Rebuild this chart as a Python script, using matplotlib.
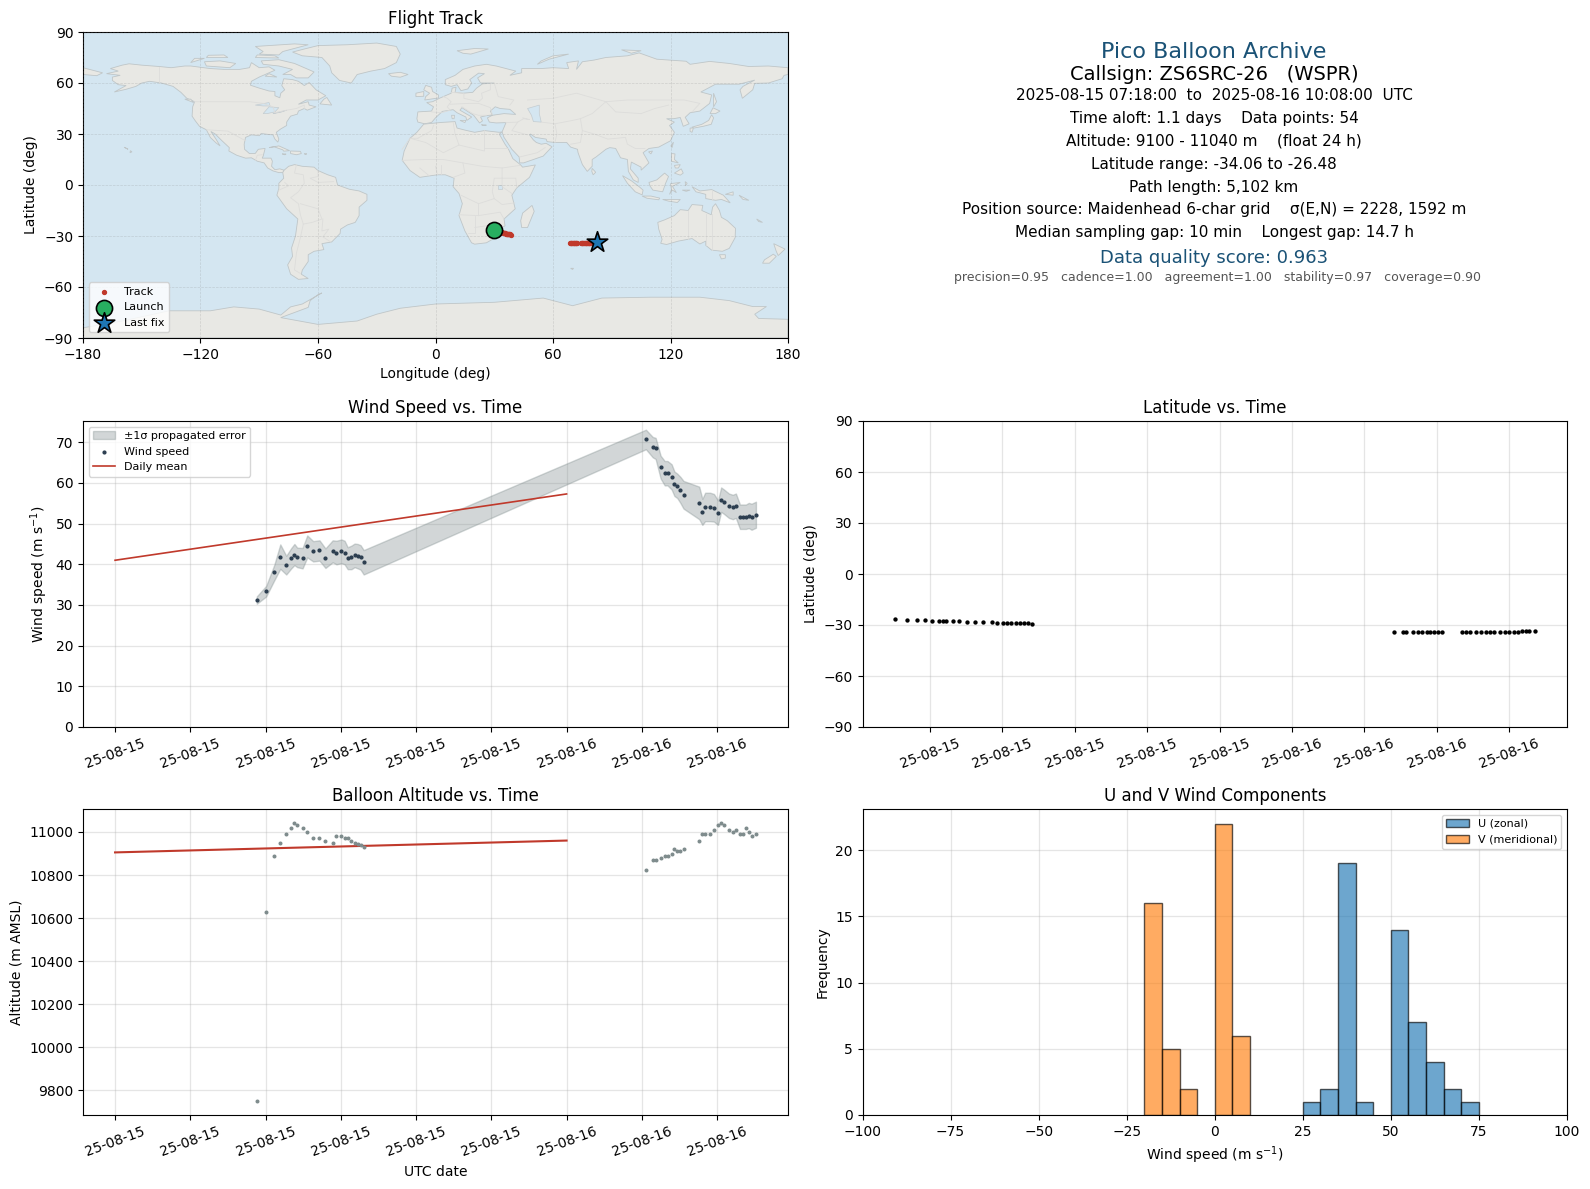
import datetime as dt
import matplotlib
matplotlib.use("Agg")
import matplotlib.pyplot as plt
import matplotlib.dates as mdates
from matplotlib.patches import Polygon

W, H = 1590, 1189

# sample times, two passes of the balloon (day 1 / day 2)
times_day1 = ["07:32", "08:02", "08:28", "08:47", "09:06", "09:22", "09:32", "09:41", "09:58",
              "10:13", "10:32", "10:52", "11:11", "11:34", "11:46", "12:02", "12:12", "12:22",
              "12:34", "12:44", "12:54", "13:03", "13:13"]
times_day2 = ["04:13", "04:35", "04:44", "05:00", "05:13", "05:22", "05:35", "05:44", "05:53",
              "06:03", "06:13", "07:03", "07:13", "07:22", "07:38", "07:50", "08:03", "08:13",
              "08:22", "08:38", "08:50", "09:00", "09:13", "09:22", "09:32", "09:41", "09:50",
              "10:04"]

wind = [31.2, 33.4, 38.0, 41.9, 39.8, 41.5, 42.4, 41.7, 41.5, 44.4, 43.2, 43.4, 41.5, 43.2, 42.9,
        43.2, 42.9, 41.5, 41.7, 42.2, 42.0, 41.7, 40.5,
        70.7, 68.8, 68.5, 63.9, 62.4, 62.4, 61.5, 59.8, 59.3, 58.3, 57.1, 55.1, 52.9, 54.1, 54.1,
        53.9, 52.7, 55.9, 55.4, 54.4, 54.1, 54.4, 51.7, 51.7, 51.7, 52.0, 51.7, 52.2]
wind_sigma = [0.9, 1.3, 1.9, 3.0, 2.3, 2.5, 2.6, 2.4, 2.5, 2.7, 2.5, 2.5, 2.4, 2.7, 2.9,
              2.9, 2.9, 2.7, 2.9, 2.9, 3.0, 3.0, 3.0,
              2.4, 2.5, 2.6, 2.8, 3.0, 3.0, 3.1, 3.0, 3.0, 3.2, 3.4, 4.0, 3.2, 3.5, 3.5,
              3.4, 3.0, 3.0, 3.0, 3.0, 3.0, 3.0, 3.0, 3.0, 3.0, 3.1, 3.2, 3.2]
altitude = [9750, 10630, 10888, 10949, 10991, 11019, 11042, 11033, 11019, 11000, 10972, 10972,
            10958, 10949, 10981, 10981, 10972, 10972, 10958, 10949, 10944, 10940, 10930,
            10825, 10870, 10870, 10879, 10888, 10888, 10898, 10921, 10912, 10912, 10921, 10958,
            10991, 10991, 10991, 11009, 11033, 11042, 11033, 11009, 11000, 11009, 10991, 10991,
            11019, 11000, 10981, 10991]
latitude = [-26.48, -27.0, -27.1, -27.2, -27.6, -27.7, -27.75, -27.75, -27.8, -27.85, -28.1,
            -28.2, -28.3, -28.5, -28.55, -28.6, -28.65, -28.8, -28.9, -29.0, -29.1, -29.1, -29.2,
            -34.0, -34.0, -34.0, -34.0, -34.0, -34.0, -34.0, -34.0, -34.0, -34.0, -34.0,
            -34.0, -34.0, -34.0, -34.0, -34.0, -34.0, -34.0, -34.0, -34.0, -34.0, -34.0, -34.0,
            -33.9, -33.8, -33.6, -33.4, -33.3]
longitude = [30.0, 30.6, 31.2, 31.7, 32.2, 32.6, 32.9, 33.2, 33.6, 34.0, 34.4, 34.9, 35.3, 35.7,
             36.0, 36.3, 36.6, 36.8, 37.1, 37.4, 37.7, 38.0, 38.3,
             68.5, 69.0, 69.3, 69.8, 70.2, 70.5, 70.9, 71.2, 71.5, 71.8, 72.1, 74.2, 74.6, 75.0,
             75.4, 75.8, 76.2, 76.6, 77.0, 77.4, 77.8, 78.2, 78.6, 79.0, 79.5, 80.2, 81.0, 82.4]

mean_days = [dt.datetime(2025, 8, 15), dt.datetime(2025, 8, 16)]
mean_wind = [41.0, 57.3]
mean_alt = [10905, 10960]

bin_edges = list(range(-100, 101, 5))
u_left = [25, 30, 35, 40, 50, 55, 60, 65, 70]
u_count = [1, 2, 19, 1, 14, 7, 4, 2, 1]
v_left = [-20, -15, -10, 0, 5]
v_count = [16, 5, 2, 22, 6]

# land outlines (lon, lat)
north_america = [(-168, 65.5), (-164, 66.5), (-162, 67), (-166, 68.5), (-160, 70.5), (-156.5, 71.3), (-150, 70.5), (-141, 69.7), (-135, 69), (-128, 70), (-125, 70), (-115, 68.5), (-108, 68), (-100, 68), (-95, 69), (-94, 72), (-90, 69), (-85, 69.5), (-82, 67.5), (-87, 65), (-90, 63.5), (-94, 61), (-94.5, 58.7), (-90, 57), (-85, 55.3), (-82, 55), (-82, 52.5), (-79.5, 51.3), (-79, 54), (-77, 56), (-78.5, 58.5), (-77.5, 62.5), (-73, 62), (-70, 61), (-67, 58.5), (-64.5, 60.3), (-61, 56), (-56, 52.5), (-60, 50), (-66, 50), (-70, 47.5), (-65, 49), (-64.5, 47), (-61, 46), (-65.5, 44), (-67, 45), (-70, 43.5), (-70.5, 41.7), (-74, 40.5), (-76, 37), (-76, 35), (-79, 33), (-81.3, 31), (-80, 27), (-80.5, 25.2), (-82, 27), (-83, 29.5), (-85, 29.7), (-89, 30.3), (-90, 29), (-94, 29.5), (-97, 28), (-97.7, 24), (-97.5, 21), (-95, 18.5), (-92, 18.6), (-90.5, 21), (-87, 21.5), (-88, 17), (-88.5, 15.8), (-84, 15.8), (-83.3, 14), (-83.7, 11), (-82, 9), (-79.5, 9.5), (-77.3, 8.7), (-78, 7.3), (-80, 7.3), (-83, 8.3), (-85.7, 10), (-87.5, 13), (-91, 14), (-94, 16), (-97, 15.8), (-101.5, 17.5), (-105.5, 20), (-105.3, 22), (-109, 26), (-112.5, 30), (-114.7, 31.5), (-112, 26.8), (-110, 23), (-112, 24.7), (-115, 28), (-117, 32.5), (-120.5, 34.5), (-122.5, 37.5), (-124.3, 40.5), (-124, 46), (-123, 49), (-127, 51), (-130, 54.5), (-134, 58), (-140, 60), (-146, 61), (-150, 60), (-153, 58), (-158, 56.3), (-164, 54.7), (-158, 58.5), (-162, 59), (-165, 61.5), (-165, 63.5), (-161, 64.5)]
south_america = [(-77.3, 8.7), (-75, 11), (-72, 12), (-68, 11), (-62, 10.5), (-60, 8.5), (-55, 6), (-51, 4.5), (-50, 0), (-44, -2.5), (-39, -3.5), (-35, -5.5), (-35, -9), (-39, -13), (-39, -18), (-41, -22), (-45, -23.5), (-48.5, -26), (-48.7, -28.5), (-53, -33.5), (-58, -34.5), (-57, -38), (-62, -39), (-65, -41), (-65, -45), (-68, -50), (-68.5, -52.5), (-65, -55), (-70, -55.5), (-74, -52.5), (-75.5, -47), (-73, -42), (-73.5, -37), (-71.5, -30), (-70.3, -20), (-76, -14), (-81, -6), (-80, -2), (-80, 1), (-77.5, 4), (-78, 7.3)]
greenland = [(-73, 78.2), (-67, 80), (-60, 82), (-45, 82.5), (-30, 83.5), (-20, 81.5), (-18, 77), (-20, 72), (-26, 68.5), (-33, 67), (-40, 65), (-43, 60), (-49, 61.5), (-53, 66), (-54, 70), (-58, 75), (-68, 76)]
eurasia = [(-9, 37), (-9.5, 39), (-9, 43), (-2, 43.5), (-1, 46), (-4.5, 48.5), (-1.5, 49), (2, 51), (4, 52), (8, 54), (8.5, 57), (10.5, 57.5), (10, 54.5), (14, 54), (19, 54.5), (21, 57), (24, 59.5), (30, 60), (23, 60), (21.5, 63), (25, 65.5), (22, 65.8), (17.5, 62), (18.5, 60), (16.5, 56.5), (13, 55.5), (11, 59), (8, 58), (5, 59), (5, 62), (10, 64.5), (14, 68), (20, 70), (26, 71), (31, 70), (41, 67), (38, 64.5), (44, 66), (44, 68.5), (54, 68.5), (60, 69), (68, 68.5), (67, 72), (73, 73), (72, 68), (75, 72.5), (81, 73.5), (87, 75), (98, 76), (104, 77.7), (113, 74), (128, 72.8), (130, 71), (140, 72.7), (150, 71.5), (160, 69.7), (170, 70), (180, 69), (180, 65), (178, 64.5), (177, 62.5), (170, 60), (163, 59.8), (162, 56), (156.7, 51), (155.5, 56), (157, 58), (163, 61.7), (155, 59.3), (143, 59.3), (135.5, 54.7), (141, 53), (140, 48), (135, 43.5), (130, 42.5), (127.5, 39.8), (129.5, 36), (126.5, 34.5), (125, 39.7), (121.5, 39), (118, 39), (122, 37), (119.5, 35), (122, 31), (120, 26), (114, 22.3), (109, 21.5), (106, 19), (109, 13), (105, 8.7), (105, 10.5), (100, 13.5), (99.5, 9.5), (103.5, 4), (103.5, 1.5), (101, 3), (98.5, 8), (98, 15), (94.5, 16), (92, 21.5), (89, 22), (87, 21), (82, 16.5), (80, 15), (80, 11), (77.5, 8), (75, 12), (72.8, 19), (72.5, 21), (69, 22.3), (67, 25), (61, 25), (57, 25.5), (56.5, 27), (51, 28), (48.5, 30), (48, 29.5), (50, 26.5), (51.5, 25), (54, 24), (56.5, 24.5), (59.5, 22.5), (55, 17), (45, 13), (43, 13), (42.7, 16.5), (39, 21), (35, 28), (34.5, 29.5), (34, 31.2), (36, 36.7), (31, 36.5), (27.5, 37), (26.5, 39.5), (29, 41), (35, 42), (41, 41.5), (38, 44.5), (33, 45), (30.5, 46), (28, 43.5), (29, 41.2), (26, 40.8), (23, 40), (24, 37.7), (22.5, 36.5), (19.5, 41), (13.5, 45.5), (12.5, 44), (18.5, 40), (16, 38), (15.5, 40), (11, 42.5), (9, 44.3), (3.5, 43.3), (0, 39.5), (-2, 36.8), (-5.5, 36)]
africa = [(-6, 35.8), (3, 36.8), (10, 37.3), (11, 33.5), (15, 32.3), (20, 31), (25, 32), (32.5, 31), (34, 31.2), (32.6, 29.9), (35.5, 24), (37.3, 21), (39.5, 15.5), (43.3, 12), (44.5, 10.5), (51, 11.8), (48, 4.5), (41.5, -1.7), (39, -6), (40.7, -14), (35, -20), (35.5, -24), (32.8, -26), (30.5, -31), (26, -34), (20, -34.8), (18.4, -34), (15, -27), (12, -18), (13.7, -11), (12, -5), (9, -1), (9.5, 4), (5, 6), (1, 6), (-4, 5.2), (-8, 4.5), (-13, 8.5), (-17, 14.5), (-16, 20), (-13, 27.5), (-9.5, 31)]
australia = [(113.5, -22), (114, -26), (115.7, -32), (115, -34.3), (118, -35), (124, -33), (131, -31.5), (135, -34.7), (138, -33), (138, -35.5), (141, -38.3), (146.5, -39), (150, -37.3), (153, -31), (153.2, -25.5), (149, -21), (146, -19), (145, -15), (143, -11), (141.5, -13), (140.8, -17.5), (136, -15), (136.5, -12), (131, -11.5), (129, -15), (125, -14.5), (122, -18), (117, -20.5)]
antarctica = [(-180, -84), (-160, -80), (-150, -77.5), (-136, -74), (-115, -74), (-103, -71.7), (-90, -73), (-79, -76.5), (-74, -71.7), (-68, -70), (-58, -63.5), (-60, -64.5), (-64, -68), (-65, -72), (-79, -78), (-60, -82), (-40, -80), (-30, -76), (-18, -72.5), (0, -70), (30, -69), (55, -66.5), (70, -71), (85, -66.5), (110, -66), (135, -66), (150, -68), (162, -71.5), (169, -71.5), (163, -76), (165, -78.5), (180, -79), (180, -90), (-180, -90)]
islands = [
    [(-80, 73.7), (-72, 71.5), (-67, 69), (-62, 66.5), (-65, 63), (-71, 63), (-74, 65), (-78, 65), (-73, 68), (-80, 70), (-88, 71), (-89, 73)],
    [(-117, 70), (-105, 69), (-102, 71.5), (-110, 73), (-118, 72.5)],
    [(-90, 77), (-80, 76.5), (-78, 78.5), (-65, 82.5), (-72, 83), (-92, 81.5), (-88, 78.5)],
    [(-125, 72), (-118, 74.5), (-123, 74.5)],
    [(-92, 75), (-80, 74.7), (-82, 76), (-91, 76.5)],
    [(-117, 75), (-106, 75), (-108, 76.5), (-116, 76.3)],
    [(-59, 47.7), (-53, 47), (-55.5, 51.5), (-57, 50.5)],
    [(-87, 64), (-81, 63.5), (-85, 65.5)],
    [(-128, 50.5), (-123.5, 48.5), (-125, 50.5)],
    [(-85, 22), (-80, 23), (-74.5, 20.2), (-77.5, 19.9), (-78, 20.7), (-82.5, 22.5)],
    [(-74, 18.5), (-74, 20), (-69, 19.8), (-68.5, 18.5), (-71, 17.8)],
    [(-78.3, 18.3), (-76.3, 18.2), (-77, 17.8)],
    [(-67, 18.4), (-65.7, 18.3), (-66.5, 18)],
    [(-156, 19), (-155, 19.5), (-155.8, 20.2)],
    [(-159, 22.2), (-157.8, 21.6), (-157, 21)],
    [(-180, 69), (-175, 67.5), (-170, 66), (-173, 64.3), (-180, 65)],
    [(-5.5, 50), (1.5, 51.2), (1.5, 53), (-1.5, 55), (-2, 57.5), (-5, 58.6), (-6, 56), (-3, 54), (-5, 52)],
    [(-10, 52), (-6, 52.2), (-6, 55), (-10, 54)],
    [(-24, 65.5), (-18, 66.3), (-14, 65), (-18, 63.4), (-22.5, 64)],
    [(11, 79), (20, 80.3), (27, 80), (18, 77), (14, 77.5)],
    [(52, 71), (58, 74), (68, 77), (60, 76), (54, 73)],
    [(95, 79.5), (105, 79), (100, 77.5)],
    [(12.5, 38), (15.5, 38), (15, 36.7)],
    [(8.2, 41), (9.7, 41), (9.5, 39), (8.5, 39)],
    [(23.5, 35.5), (26, 35.2), (24, 35)],
    [(49.3, -12), (50.4, -15.5), (47, -25), (44, -25), (43.5, -21), (44.5, -16.5)],
    [(69, -49), (70.5, -49), (70, -49.7)],
    [(145, -41), (148, -41), (148, -43), (146, -43.5)],
    [(172.7, -34.5), (178.5, -37.7), (175, -41.5), (174, -39)],
    [(172.5, -40.7), (174, -42), (170.5, -46), (167, -46), (168, -44)],
    [(131, -1), (135, -3.5), (141, -2.7), (147, -6), (150.5, -10.5), (146, -8.5), (143, -9), (138, -8), (138, -5.5), (133, -4)],
    [(109, 1.5), (113, 3), (117, 7), (119, 5), (117.5, 1), (116, -4), (111, -3), (109.5, -0.5)],
    [(95.5, 5.5), (100, 2.5), (104, -1), (106, -3), (105.5, -5.8), (102, -4), (98, 1)],
    [(105.5, -6.5), (110, -6.5), (114.5, -7.7), (114, -8.7), (108, -7.8)],
    [(119.5, -5.5), (120.5, -2.7), (120, 0.8), (125, 1.5), (121, -0.8), (123, -4.5), (121, -3)],
    [(127.5, 2), (128.5, 1), (127.7, -0.5)],
    [(126, -3), (130, -3), (128, -3.7)],
    [(116, -8.5), (125, -8.5), (123.5, -10.3), (119, -9.5)],
    [(148, -5.5), (152, -4), (152, -6)],
    [(155, -6), (160, -9), (157, -8.5)],
    [(164, -20), (167, -22), (165, -21.5)],
    [(120.5, 18.5), (122.3, 18.3), (122, 15), (124, 13), (120.5, 14)],
    [(122, 7), (125.5, 9.5), (126.5, 7), (125, 5.8)],
    [(122, 11.5), (125, 12), (124, 10), (122.5, 10)],
    [(80, 9.8), (81.8, 7.5), (80.5, 6), (79.8, 8)],
    [(120.2, 23), (121.5, 25.2), (120.8, 22)],
    [(108.8, 19.5), (110.8, 20), (110, 18.3)],
    [(130.9, 34), (136, 35.7), (139.5, 38), (141, 41.3), (142, 39.5), (140.8, 35.7), (137, 34.6), (132, 33.5)],
    [(130, 33.5), (131.7, 33.5), (131, 31), (130, 31.5)],
    [(140.2, 42), (141.7, 45.4), (145.3, 43.5), (143, 42)],
    [(142, 54), (143.5, 49), (142, 46), (142, 50)],
]
lakes = [
    [(47, 45), (53, 47), (53, 42), (54, 37), (50, 37.3), (49, 41)],
    [(-92, 47), (-85, 48.5), (-84.5, 46.5), (-88, 46.5)],
    [(-88, 42), (-85, 46), (-80, 45.5), (-82, 43), (-86, 42)],
    [(-83, 42), (-78.5, 43.3), (-76, 44), (-79, 42.8)],
    [(32, 0), (34, 0), (34, -2.5), (32, -2.5)],
]
borders = [
    [(-123, 49), (-95, 49), (-88, 48), (-83, 46), (-82, 42.5), (-76, 44), (-71, 45), (-67, 47), (-67, 45)],
    [(-141, 69.7), (-141, 60)],
    [(-117, 32.5), (-106, 31.7), (-97, 26)],
    [(-92, 14.5), (-91, 17.5), (-88.5, 17.8)],
    [(-71, 12), (-72, 7), (-67.5, 6), (-67, 1), (-70, -4), (-74, -7.5), (-70, -11), (-69, -17.5), (-67.5, -23), (-69, -31), (-71, -40), (-72, -50), (-69, -52)],
    [(-60, 8.5), (-60, 5), (-64, 4), (-60, 1.5), (-52, 2)],
    [(-57.5, -20), (-58, -27), (-54.5, -26), (-57.5, -30.5), (-53.5, -33.5)],
    [(-69, -11), (-60, -14), (-58, -20), (-63, -22), (-67.5, -23)],
    [(-80, -3), (-75, -0.5), (-77, 1.5)],
    [(-2, 43), (3, 42.5), (7.5, 44), (6, 46), (8, 49), (6, 51), (4, 52)],
    [(8, 54.5), (14.5, 54), (14.5, 51), (22, 49), (24, 51), (23.5, 54), (28, 56), (28, 60)],
    [(7.5, 47.5), (17, 48), (22, 48), (28, 45.5), (29, 41.5)],
    [(13.5, 46), (19, 42), (22, 41), (26, 41)],
    [(30, 60), (32, 52), (40, 50), (38, 47)],
    [(47, 50), (60, 51), (72, 54), (87, 49), (98, 50), (107, 50), (118, 50), (127, 50), (135, 48), (131, 43)],
    [(87, 49), (80, 42), (74, 39), (70, 38), (61, 36), (54, 37)],
    [(87, 49), (92, 43), (105, 42), (112, 45), (119, 47)],
    [(74, 39), (75, 32), (81, 30), (88, 27), (97, 28), (98, 24), (102, 21.5), (107, 21.5)],
    [(61, 25), (62, 30), (61, 36)],
    [(75, 32), (74, 25), (69, 24)],
    [(36, 36.7), (42, 37), (45, 39), (48, 38.5), (44.5, 39.5)],
    [(42, 37), (39, 32), (47, 29.5)],
    [(43, 16.5), (52, 19), (56, 22)],
    [(-9, 27.5), (-2, 32), (-1, 35)],
    [(-9, 27.5), (-13, 27.5), (-17, 21)],
    [(-13, 27.5), (-5, 25), (4, 19), (12, 23.5), (10, 30), (9, 37)],
    [(12, 23.5), (25, 20), (25, 32)],
    [(25, 22), (37, 22)],
    [(-17, 14.5), (-5, 15), (4, 15), (14, 13), (24, 11), (34, 10), (43, 11.5)],
    [(14, 13), (15, 7), (9, 4.5)],
    [(34, 10), (34, 4), (41, 4), (41.5, -1.7)],
    [(34, 4), (30, 4), (29, -4), (30, -8), (22, -11), (13, -6)],
    [(34, 4), (34, -1), (39, -5)],
    [(30, -8), (34, -11.5), (40.5, -10.5)],
    [(22, -11), (22, -18), (12, -17.5)],
    [(22, -18), (33, -16), (35, -20)],
    [(20, -18), (20, -28.5), (16.5, -28.5)],
    [(20, -25), (26, -24), (32, -22.5), (32, -26)],
    [(-8, 10), (-3, 5.2)],
    [(0, 11), (1, 6)],
    [(3, 12), (3, 6.5)],
    [(129, -15), (129, -31.7)],
    [(138, -17), (138, -35)],
    [(141, -17), (141, -38)],
    [(141, -2.7), (141, -9)],
]

land_color = "#e8e8e4"
ocean_color = "#d4e6f1"
red = "#c0392b"
navy = "#1a5276"


def px_axes(left, top, right, bottom):
    return [left / W, 1 - bottom / H, (right - left) / W, (bottom - top) / H]


def parse(day, items):
    return [dt.datetime.strptime("2025-08-%d %s" % (day, t), "%Y-%m-%d %H:%M") for t in items]


def style_time(ax, hours):
    ax.xaxis.set_major_locator(mdates.HourLocator(byhour=range(0, 24, hours)))
    ax.xaxis.set_major_formatter(mdates.DateFormatter("%y-%m-%d"))
    ax.tick_params(axis="x", labelrotation=20)
    ax.grid(True, color="#b0b0b0", alpha=0.33, lw=0.9)
    ax.set_axisbelow(True)


times = parse(15, times_day1) + parse(16, times_day2)
upper = [w + s for w, s in zip(wind, wind_sigma)]
lower = [w - s for w, s in zip(wind, wind_sigma)]

fig = plt.figure(figsize=(W / 100, H / 100), dpi=100)

# flight track map
ax = fig.add_axes(px_axes(83, 32, 788, 338))
ax.set_facecolor(ocean_color)
for poly in [north_america, south_america, greenland, eurasia, africa, australia, antarctica] + islands:
    ax.add_patch(Polygon(poly, closed=True, fc=land_color, ec="#bfc6c8", lw=0.6, zorder=1))
for poly in lakes:
    ax.add_patch(Polygon(poly, closed=True, fc=ocean_color, ec="#c4ccd0", lw=0.5, zorder=1.1))
for line in borders:
    ax.plot([p[0] for p in line], [p[1] for p in line], color="#dddddb", lw=0.6, zorder=1.2)
ax.grid(True, color="#808080", alpha=0.25, ls="--", lw=0.5, zorder=1.5)
ax.set_axisbelow(False)
ax.scatter(longitude, latitude, s=8, color=red, zorder=3, label="Track")
ax.scatter(longitude[0], latitude[0], s=135, color="#27ae60", edgecolor="black", lw=1.2, zorder=4, label="Launch")
ax.scatter(longitude[-1], latitude[-1], s=240, marker="*", color="#1f77b4", edgecolor="black", lw=1.2, zorder=4, label="Last fix")
ax.set_xlim(-180, 180)
ax.set_ylim(-90, 90)
ax.set_xticks(range(-180, 181, 60))
ax.set_yticks(range(-90, 91, 30))
ax.set_xlabel("Longitude (deg)")
ax.set_ylabel("Latitude (deg)")
ax.set_title("Flight Track")
ax.legend(loc="lower left", fontsize=8)

# summary text
ax = fig.add_axes(px_axes(862.5, 31, 1567, 337.5))
ax.axis("off")
summary = [
    (0.931, 0.499, "Pico Balloon Archive", 16, navy),
    (0.858, 0.499, "Callsign: ZS6SRC-26   (WSPR)", 14, "black"),
    (0.789, 0.499, "2025-08-15 07:18:00  to  2025-08-16 10:08:00  UTC", 11, "black"),
    (0.714, 0.499, "Time aloft: 1.1 days    Data points: 54", 11, "black"),
    (0.641, 0.499, "Altitude: 9100 - 11040 m    (float 24 h)", 11, "black"),
    (0.566, 0.499, "Latitude range: -34.06 to -26.48", 11, "black"),
    (0.491, 0.499, "Path length: 5,102 km", 11, "black"),
    (0.416, 0.499, "Position source: Maidenhead 6-char grid    σ(E,N) = 2228, 1592 m", 11, "black"),
    (0.343, 0.499, "Median sampling gap: 10 min    Longest gap: 14.7 h", 11, "black"),
    (0.260, 0.499, "Data quality score: 0.963", 13, navy),
    (0.195, 0.504, "precision=0.95   cadence=1.00   agreement=1.00   stability=0.97   coverage=0.90", 9, "#555555"),
]
for y, x, text, size, color in summary:
    ax.text(x, y, text, transform=ax.transAxes, ha="center", va="center", fontsize=size, color=color)

# wind speed
ax = fig.add_axes(px_axes(83, 421, 788, 727))
ax.fill_between(times, lower, upper, color="#7f8c8d", alpha=0.35, label="±1σ propagated error")
ax.scatter(times, wind, s=4, color="#2c3e50", zorder=3, label="Wind speed")
ax.plot(mean_days, mean_wind, color=red, lw=1.2, label="Daily mean")
ax.set_ylim(bottom=0)
style_time(ax, 4)
ax.set_ylabel("Wind speed (m s$^{-1}$)")
ax.set_title("Wind Speed vs. Time")
ax.legend(loc="upper left", fontsize=8)

# latitude
ax = fig.add_axes(px_axes(862.5, 421, 1567, 727))
ax.scatter(times, latitude, s=4.5, color="black", zorder=3)
ax.set_ylim(-90, 90)
ax.set_yticks(range(-90, 91, 30))
style_time(ax, 3)
ax.set_ylabel("Latitude (deg)")
ax.set_title("Latitude vs. Time")

# altitude
ax = fig.add_axes(px_axes(83, 809, 788, 1115))
ax.scatter(times, altitude, s=3.5, color="#7f8c8d", zorder=3)
ax.plot(mean_days, mean_alt, color=red, lw=1.5)
style_time(ax, 4)
ax.set_xlabel("UTC date")
ax.set_ylabel("Altitude (m AMSL)")
ax.set_title("Balloon Altitude vs. Time")

# wind component histogram
ax = fig.add_axes(px_axes(862.5, 809, 1567, 1115))
step = bin_edges[1] - bin_edges[0]
ax.bar(u_left, u_count, width=step, align="edge", color="#1f77b4", alpha=0.65, edgecolor="black", label="U (zonal)")
ax.bar(v_left, v_count, width=step, align="edge", color="#ff7f0e", alpha=0.65, edgecolor="black", label="V (meridional)")
ax.set_xlim(bin_edges[0], bin_edges[-1])
ax.grid(True, color="#b0b0b0", alpha=0.33, lw=0.9)
ax.set_axisbelow(True)
ax.set_xlabel("Wind speed (m s$^{-1}$)")
ax.set_ylabel("Frequency")
ax.set_title("U and V Wind Components")
ax.legend(loc="upper right", fontsize=8)

fig.savefig("out.png", dpi=100)
